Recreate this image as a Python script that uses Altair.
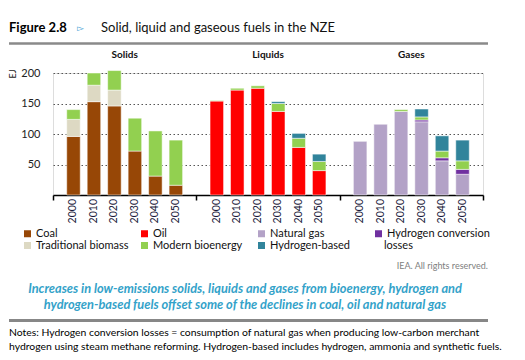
import altair as alt
import pandas as pd

# ---- data (EJ) ----
years = ["2000", "2010", "2020", "2030", "2040", "2050"]
panels = ["Solids", "Liquids", "Gases"]

coal = [96, 153, 146, 72, 31, 16]
traditional_biomass = [28, 27, 26, 0, 0, 0]
modern_solids = [16, 20, 32, 54, 74, 74]

oil = [154, 172, 175, 137, 78, 40]
modern_liquids = [1, 3, 4, 13, 15, 15]
hydrogen_liquids = [0, 0, 0, 3, 8, 12]

natural_gas = [88, 116, 137, 120, 56, 34]
hydrogen_losses = [0, 0, 0, 3, 5, 8]
modern_gases = [0, 0, 3, 5, 11, 14]
hydrogen_gases = [0, 0, 0, 13, 25, 34]

legend_order = ["Coal", "Oil", "Natural gas", "Hydrogen conversion losses",
                "Traditional biomass", "Modern bioenergy", "Hydrogen-based"]
legend_colors = ["#974706", "#ff0000", "#b3a2c7", "#7030a0",
                 "#ddd9c3", "#92d050", "#31849b"]

series = [
    ("Solids", "Coal", 0, coal),
    ("Solids", "Traditional biomass", 1, traditional_biomass),
    ("Solids", "Modern bioenergy", 2, modern_solids),
    ("Liquids", "Oil", 0, oil),
    ("Liquids", "Modern bioenergy", 2, modern_liquids),
    ("Liquids", "Hydrogen-based", 3, hydrogen_liquids),
    ("Gases", "Natural gas", 0, natural_gas),
    ("Gases", "Hydrogen conversion losses", 1, hydrogen_losses),
    ("Gases", "Modern bioenergy", 2, modern_gases),
    ("Gases", "Hydrogen-based", 3, hydrogen_gases),
]
rows = []
for panel, fuel, rank, vals in series:
    for yr, v in zip(years, vals):
        if v > 0:
            rows.append({"panel": panel, "year": yr, "fuel": fuel, "rank": rank, "value": v})
df = pd.DataFrame(rows)
df_years = pd.DataFrame([{"panel": p, "year": y} for p in panels for y in years])
df_panels = pd.DataFrame({"panel": panels})
one = pd.DataFrame({"k": [0]})

FONT = "Lato"

x_enc = alt.X("panel:N", sort=panels,
              scale=alt.Scale(domain=panels, paddingInner=0, paddingOuter=0),
              axis=alt.Axis(title=None, labels=False, tickBand="extent", tickSize=5,
                            tickColor="#000", domainColor="#000", domainWidth=1.5,
                            tickWidth=1.5, grid=False))
xo_enc = alt.XOffset("year:N", sort=years,
                     scale=alt.Scale(domain=years, paddingInner=0.34, paddingOuter=0.67))

bars = alt.Chart(df).mark_bar(stroke="white", strokeOpacity=0.5, strokeWidth=1).encode(
    x=x_enc,
    xOffset=xo_enc,
    y=alt.Y("value:Q", stack="zero",
            scale=alt.Scale(domain=[0, 200], nice=False),
            axis=alt.Axis(values=[50, 100, 150, 200], title=None, grid=True,
                          gridDash=[1.5, 2.5], gridColor="#555", gridWidth=1,
                          domain=False, ticks=False, labelPadding=13,
                          labelFontSize=11, labelColor="#222", labelFont=FONT)),
    color=alt.Color("fuel:N",
                    scale=alt.Scale(domain=legend_order, range=legend_colors),
                    legend=alt.Legend(title=None, orient="none", legendX=-31, legendY=155,
                                      direction="horizontal", columns=4, gridAlign="all",
                                      columnPadding=0, rowPadding=0,
                                      symbolType="square", symbolSize=49,
                                      symbolStrokeWidth=0, labelFontSize=11,
                                      labelFont=FONT, labelColor="#111",
                                      labelOffset=3, labelLimit=200, padding=0,
                                      labelExpr="datum.label == 'Hydrogen conversion losses' ? 'Hydrogen conversion' : datum.label")),
    order=alt.Order("rank:Q", sort="ascending"),
)

year_labels = alt.Chart(df_years).mark_text(
    angle=270, align="right", baseline="middle", fontSize=10.5, font=FONT, color="#1a1a3a"
).encode(x=x_enc, xOffset=xo_enc, y=alt.value(126), text="year:N")

panel_titles = alt.Chart(df_panels).mark_text(
    fontWeight="bold", fontSize=10, font=FONT, color="#111", baseline="middle"
).encode(x=x_enc, y=alt.value(-18), text="panel:N")


def label(text, x, y, **kw):
    return alt.Chart(one).mark_text(text=text, **kw).encode(x=alt.value(x), y=alt.value(y))


def hline(x1, x2, y, width, color):
    return alt.Chart(one).mark_rule(strokeWidth=width, color=color).encode(
        x=alt.value(x1), x2=alt.value(x2), y=alt.value(y))


annotations = [
    label("Figure 2.8", -44, -45, align="left", baseline="middle", fontSize=13,
          fontWeight="bold", font=FONT, color="#000"),
    label("\u25bb", 24, -45, align="left", baseline="middle", fontSize=9,
          font="DejaVu Sans", color="#4aa3d6"),
    label("Solid, liquid and gaseous fuels in the NZE", 48, -45, align="left",
          baseline="middle", fontSize=13, font=FONT, color="#111"),
    hline(-44, 435, -29.5, 2.5, "#8a8a8a"),
    label("EJ", -40, 1, angle=270, align="center", baseline="middle", fontSize=9,
          font=FONT, color="#222"),
    label("losses", 331, 173, align="left", baseline="middle", fontSize=11,
          font=FONT, color="#111"),
    label("IEA. All rights reserved.", 435, 192.5, align="right", baseline="middle",
          fontSize=9, font=FONT, color="#808080"),
    label(["Increases in low-emissions solids, liquids and gases from bioenergy, hydrogen and",
           "hydrogen-based fuels offset some of the declines in coal, oil and natural gas"],
          192, 216, align="center", baseline="middle", lineHeight=16, fontSize=12.8,
          fontWeight="bold", fontStyle="italic", font=FONT, color="#33a2c9"),
    hline(-44, 435, 247.5, 3, "#878787"),
    label(["Notes: Hydrogen conversion losses = consumption of natural gas when producing low-carbon merchant",
           "hydrogen using steam methane reforming. Hydrogen-based includes hydrogen, ammonia and synthetic fuels."],
          -44, 260, align="left", baseline="middle", lineHeight=14, fontSize=10.4,
          font=FONT, color="#000"),
]

chart = alt.layer(bars, year_labels, panel_titles, *annotations).properties(
    width=430, height=122,
    padding={"left": 45, "top": 65, "right": 34, "bottom": 157},
    autosize=alt.AutoSizeParams(type="none"),
).configure_view(stroke=None).configure(font=FONT)

chart.save("out.html", embed_options={"renderer": "svg", "actions": False})
